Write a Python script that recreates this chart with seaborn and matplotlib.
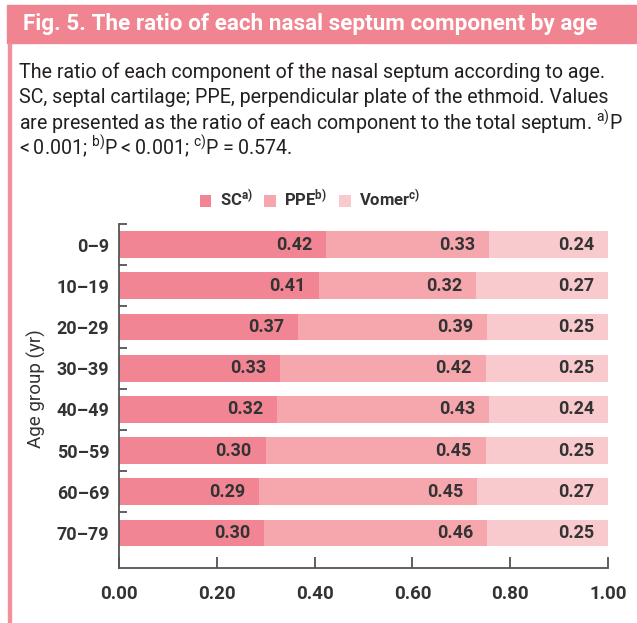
import numpy as np
import pandas as pd
import matplotlib
matplotlib.use("Agg")
import matplotlib.pyplot as plt
from matplotlib.patches import Patch, Rectangle
import seaborn as sns

# data
age_groups = ["0\u20139", "10\u201319", "20\u201329", "30\u201339",
              "40\u201349", "50\u201359", "60\u201369", "70\u201379"]
sc = [0.42, 0.41, 0.37, 0.33, 0.32, 0.30, 0.29, 0.30]
ppe = [0.33, 0.32, 0.39, 0.42, 0.43, 0.45, 0.45, 0.46]
vomer = [0.24, 0.27, 0.25, 0.25, 0.24, 0.25, 0.27, 0.25]

series_names = ["SC", "PPE", "Vomer"]
series_marks = ["a)", "b)", "c)"]
colors = ["#f18593", "#f6a7ae", "#f9cacd"]
pink = "#f08490"
dark = "#333333"

sns.set_theme(style="white")
plt.rcParams["font.family"] = ["Roboto", "DejaVu Sans"]
plt.rcParams["mathtext.fontset"] = "custom"
plt.rcParams["mathtext.rm"] = "Roboto"
plt.rcParams["mathtext.bf"] = "Roboto:bold"
plt.rcParams["mathtext.default"] = "regular"

df = pd.DataFrame({"Age": age_groups, "SC": sc, "PPE": ppe, "Vomer": vomer})
total = df[["SC", "PPE", "Vomer"]].sum(axis=1)
# bars are drawn as shares of the total septum (each row fills to 1.00)
df["c1"] = df["SC"] / total
df["c2"] = (df["SC"] + df["PPE"]) / total
df["c3"] = 1.0

W, H = 637, 623
fig = plt.figure(figsize=(W / 100, H / 100), dpi=100)
fig.patch.set_facecolor("white")

# title bar and left border
fig.patches.append(Rectangle((7 / W, 1 - 43 / H), 1 - 7 / W, 38 / H,
                             transform=fig.transFigure, color=pink, zorder=0))
fig.patches.append(Rectangle((8 / W, 0), 3 / W, 1 - 43 / H,
                             transform=fig.transFigure, color="#f2919d", zorder=0))
fig.text(23 / W, 1 - 24 / H, "Fig. 5. The ratio of each nasal septum component by age",
         color="white", fontsize=16.2, fontweight="bold", va="center", ha="left")

caption = ["The ratio of each component of the nasal septum according to age.",
           "SC, septal cartilage; PPE, perpendicular plate of the ethmoid. Values",
           "are presented as the ratio of each component to the total septum. $^{\\mathrm{a)}}$P",
           "<\u20090.001; $^{\\mathrm{b)}}$P\u2009<\u20090.001; $^{\\mathrm{c)}}$P\u2009=\u20090.574."]
for i, line in enumerate(caption):
    fig.text(19 / W, 1 - (72 + 25 * i) / H, line, color="#231f20",
             fontsize=14.1, va="center", ha="left")

ax = fig.add_axes([119 / W, (H - 568) / H, (608 - 119) / W, (568 - 224) / H])

for col, c in zip(["c3", "c2", "c1"], colors[::-1]):
    sns.barplot(data=df, x=col, y="Age", orient="h", color=c, width=0.65,
                saturation=1, ax=ax, edgecolor="none", linewidth=0)

# value labels, right aligned inside each segment
for i in range(len(df)):
    for col, key in zip(["c1", "c2", "c3"], ["SC", "PPE", "Vomer"]):
        ax.annotate(f"{df.loc[i, key]:.2f}", (df.loc[i, col], i),
                    xytext=(-10, 0), textcoords="offset points",
                    ha="right", va="center", fontsize=13,
                    fontweight="bold", color=dark)

ax.set_xlim(0, 1)
ax.set_ylim(7.85, -0.5)
ax.set_xticks(np.arange(0, 1.01, 0.2))
ax.set_xticklabels([f"{v:.2f}" for v in np.arange(0, 1.01, 0.2)])
ax.set_yticks(range(len(age_groups)))
ax.set_yticklabels(age_groups)
ax.set_yticks(np.arange(-0.5, 7, 1), minor=True)
ax.tick_params(axis="y", which="major", length=0, pad=7, labelsize=13, labelcolor=dark)
ax.tick_params(axis="y", which="minor", left=True, direction="in", length=6,
               width=1.2, color="#444444")
ax.tick_params(axis="x", which="major", bottom=True, direction="in", length=8,
               width=1.2, color="#444444", pad=12, labelsize=13.5, labelcolor=dark)
for lab in ax.get_xticklabels() + ax.get_yticklabels():
    lab.set_fontweight("bold")

for s in ["top", "right"]:
    ax.spines[s].set_visible(False)
for s in ["left", "bottom"]:
    ax.spines[s].set_color("#555555")
    ax.spines[s].set_linewidth(1.3)

ax.set_xlabel("")
ax.set_ylabel("Age group (yr)", fontsize=13.5, color=dark)
ax.yaxis.set_label_coords(-0.15, 0.52)

handles = [Patch(facecolor=c, edgecolor="none") for c in colors]
labels = [f"{n}$^{{\\mathbf{{{m}}}}}$" for n, m in zip(series_names, series_marks)]
leg = ax.legend(handles, labels, ncol=3, frameon=False, loc="center",
                bbox_to_anchor=((310 - 119) / (608 - 119), 1 + (224 - 199) / (568 - 224)),
                handlelength=0.7, handleheight=0.7, handletextpad=0.5,
                columnspacing=0.7, prop={"weight": "bold", "size": 12})
for t in leg.get_texts():
    t.set_color(dark)

fig.savefig("out.png", dpi=100)
